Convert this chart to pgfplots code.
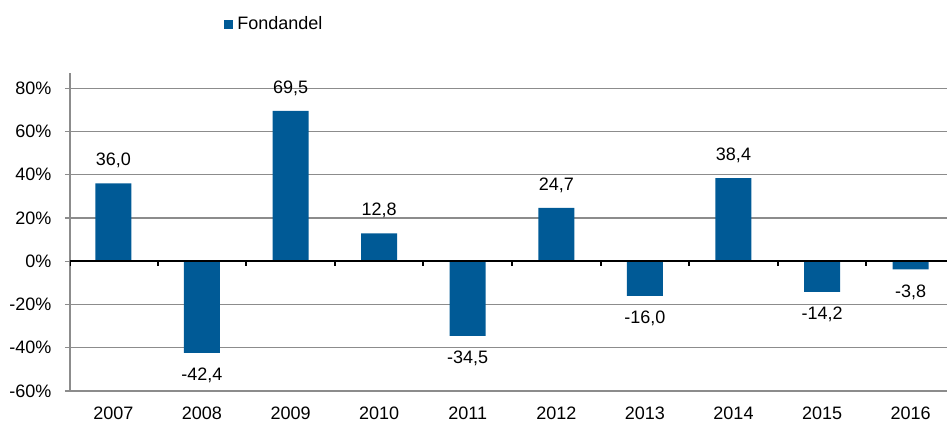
\documentclass[border=0pt]{standalone}
\usepackage{pgfplots}
\pgfplotsset{compat=1.18}
\usepackage{fontspec}
\setmainfont{Liberation Sans}
\definecolor{barblue}{HTML}{005A96}
\definecolor{gridgray}{HTML}{8C8C8C}
\begin{document}
\begin{tikzpicture}
\path[use as bounding box] (-35pt,-15pt) rectangle (438.5pt,195.5pt);
\begin{axis}[
  at={(0,0)}, anchor=south west, scale only axis,
  width=438.5pt, height=159pt,
  xmin=-0.49, xmax=9.41, ymin=-60, ymax=87,
  axis x line*=bottom, axis y line*=left,
  x axis line style={gridgray, line width=0.6pt, -},
  y axis line style={gridgray, line width=0.6pt, -},
  xtick={0,1,2,3,4,5,6,7,8,9},
  xticklabels={2007,2008,2009,2010,2011,2012,2013,2014,2015,2016},
  x tick style={draw=none},
  ytick={-60,-40,-20,0,20,40,60,80},
  yticklabels={-60\%,-40\%,-20\%,0\%,20\%,40\%,60\%,80\%},
  tick align=outside, major tick length=2.5pt,
  y tick style={gridgray, line width=0.6pt},
  ymajorgrids, grid style={gridgray, line width=0.6pt},
  tick label style={font=\fontsize{9}{11}\selectfont},
  xticklabel style={yshift=-1.75pt},
  yticklabel style={xshift=-3.25pt},
  legend style={at={(axis description cs:0.1756,1.151)}, anchor=west, draw=none,
    inner sep=0pt, font=\fontsize{9}{11}\selectfont},
  legend cell align=left,
]
\addplot[ybar, bar width=18pt, fill=barblue, draw=none,
  point meta=y,
  nodes near coords, nodes near coords align=vertical,
  every node near coord/.append style={font=\fontsize{9}{11}\selectfont, black, inner ysep=7.5pt,
    /pgf/number format/.cd, fixed, fixed zerofill, precision=1, use comma, assume math mode=true},
  legend image code/.code={\fill[barblue] (0pt,-2.25pt) rectangle (4.5pt,2.25pt);}
] table[x=x, y=y] {
x y
0 36.0
1 -42.4
2 69.5
3 12.8
4 -34.5
5 24.7
6 -16.0
7 38.4
8 -14.2
9 -3.8
};
\addlegendentry{Fondandel}
\addplot[black, line width=1pt, forget plot] coordinates {(-0.49,0) (9.41,0)};
\addplot[draw=none, mark=none, forget plot,
  error bars/.cd, y dir=minus, y explicit, error mark=none,
  error bar style={black, line width=1pt}]
  coordinates {(-0.49,0) -= (0,2.1) (0.5,0) -= (0,2.1) (1.5,0) -= (0,2.1) (2.5,0) -= (0,2.1)
    (3.5,0) -= (0,2.1) (4.5,0) -= (0,2.1) (5.5,0) -= (0,2.1) (6.5,0) -= (0,2.1)
    (7.5,0) -= (0,2.1) (8.5,0) -= (0,2.1)};
\end{axis}
\end{tikzpicture}
\end{document}
